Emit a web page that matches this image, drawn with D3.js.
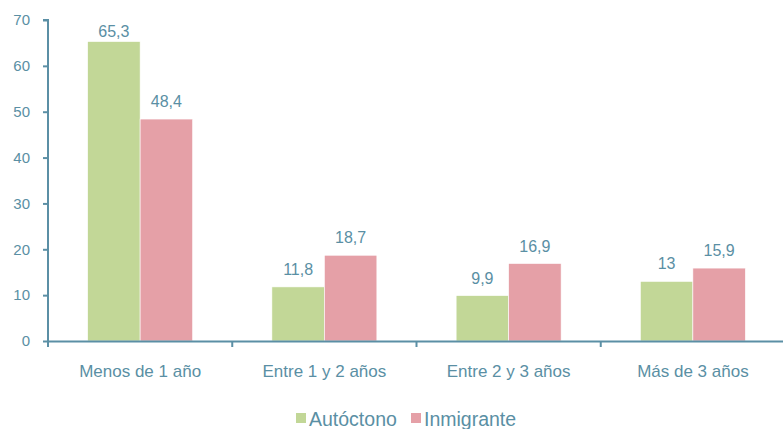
<!DOCTYPE html>
<html><head><meta charset="utf-8">
<script src="https://cdn.jsdelivr.net/npm/d3@7"></script>
<style>
body{margin:0;background:#fff;}
text{font-family:"Liberation Sans",Arial,Helvetica,sans-serif;fill:#5a8fa4;}
</style></head>
<body><svg id="c" width="783" height="429"></svg>
<script>
const categories = ["Menos de 1 año","Entre 1 y 2 años","Entre 2 y 3 años","Más de 3 años"];
const series = ["Autóctono","Inmigrante"];
const autoctono = [65.3, 11.8, 9.9, 13];
const inmigrante = [48.4, 18.7, 16.9, 15.9];
const yTicks = [0,10,20,30,40,50,60,70];
const colors = ["#c2d797","#e5a0a7"];
const values = [autoctono, inmigrante];

const svg = d3.select("#c");
const m = {left:48, top:20};
const plotW = 737, plotH = 321;
const g = svg.append("g").attr("transform",`translate(${m.left},${m.top})`);
const x0 = d3.scaleBand().domain(categories).range([0,plotW]).padding(0);
const x1 = d3.scaleBand().domain(series).range([0,x0.bandwidth()]).paddingInner(0).paddingOuter(0.755);
const y = d3.scaleLinear().domain([0,70]).range([plotH,0]);
const fmt = v => String(v).replace(".", ",");
const txt = "#5a8fa4";
const axisColor = "#5b8fa5";
// bars
series.forEach((s,si)=>{
  g.selectAll(".b"+si).data(categories).enter().append("rect")
    .attr("x",c=>x0(c)+x1(s)).attr("width",x1.bandwidth())
    .attr("y",(c,i)=>y(values[si][i])).attr("height",(c,i)=>plotH-y(values[si][i]))
    .attr("fill",colors[si]).attr("stroke","#fff").attr("stroke-width",0.6);
  g.selectAll(".l"+si).data(categories).enter().append("text")
    .attr("x",c=>x0(c)+x1(s)+x1.bandwidth()/2)
    .attr("y",(c,i)=>Math.max(y(values[si][i])-12, 17))
    .attr("text-anchor","middle").attr("font-size",16)
    .text((c,i)=>fmt(values[si][i]));
});

// y axis
const ya = g.append("g").call(d3.axisLeft(y).tickValues(yTicks).tickSize(5).tickPadding(13));
ya.select(".domain").attr("stroke",axisColor).attr("stroke-width",2).attr("d",`M-5,0H0V${plotH}`);
ya.selectAll(".tick line").attr("stroke",axisColor).attr("stroke-width",2);
ya.selectAll(".tick text").attr("font-size",15).style("fill",txt).attr("font-family","Liberation Sans, Arial, sans-serif");

// x axis
const xa = g.append("g").attr("transform",`translate(0,${plotH})`)
  .call(d3.axisBottom(x0).tickSize(0).tickPadding(24));
xa.select(".domain").attr("stroke",axisColor).attr("stroke-width",2);
xa.selectAll(".tick text").attr("font-size",17).style("fill",txt).attr("font-family","Liberation Sans, Arial, sans-serif");
const bounds = categories.map(c=>x0(c)).concat([plotW]);
xa.selectAll(".bt").data(bounds).enter().append("line")
  .attr("x1",d=>d).attr("x2",d=>d).attr("y1",0).attr("y2",6)
  .attr("stroke",axisColor).attr("stroke-width",2);

// legend
const leg = svg.append("g").attr("transform","translate(296,0)");
const legX = [0,115];
series.forEach((s,i)=>{
  leg.append("rect").attr("x",legX[i]).attr("y",413).attr("width",10).attr("height",10).attr("fill",colors[i]);
  leg.append("text").attr("x",legX[i]+13).attr("y",426).attr("font-size",19.5).text(s);
});
</script></body></html>
